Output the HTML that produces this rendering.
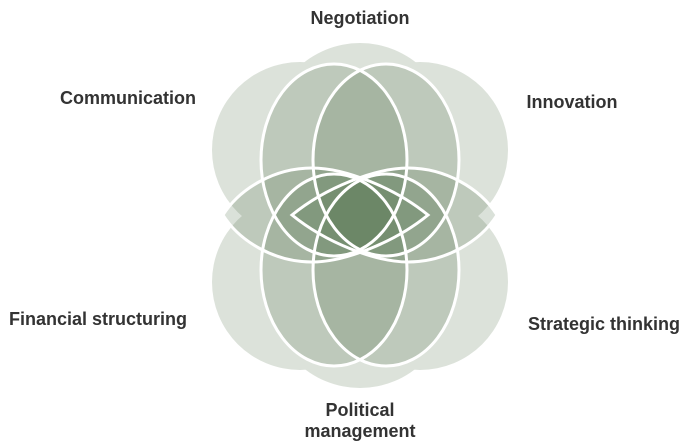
<!DOCTYPE html>
<html><head><style>
html,body{margin:0;padding:0;background:#fff;width:687px;height:444px;overflow:hidden}
svg{display:block}
text{font-family:"Liberation Sans",sans-serif;font-weight:bold;font-size:18px;fill:#333}
</style></head><body>
<svg width="687" height="444" viewBox="0 0 687 444" xmlns="http://www.w3.org/2000/svg">
<defs>
<path id="hl" d="M223,215 C240,188 275,168 312,168 C345,168 395,188 428,215 C395,242 345,262 312,262 C275,262 240,242 223,215 Z"/>
<path id="hr" d="M497,215 C480,188 445,168 408,168 C375,168 325,188 292,215 C325,242 375,262 408,262 C445,262 480,242 497,215 Z"/>
</defs>
<g fill="#dce2da">
<circle cx="360" cy="133" r="90"/>
<circle cx="360" cy="298" r="90"/>
<circle cx="300" cy="150" r="88"/>
<circle cx="420" cy="150" r="88"/>
<circle cx="300" cy="282" r="88"/>
<circle cx="420" cy="282" r="88"/>
</g>
<g fill="rgb(70,105,66)" fill-opacity="0.2">
<ellipse cx="334" cy="160" rx="73" ry="96"/>
<ellipse cx="386" cy="160" rx="73" ry="96"/>
<ellipse cx="334" cy="270" rx="73" ry="96"/>
<ellipse cx="386" cy="270" rx="73" ry="96"/>
<use href="#hl"/>
<use href="#hr"/>
</g>
<g fill="none" stroke="#fff" stroke-width="3">
<ellipse cx="334" cy="160" rx="73" ry="96"/>
<ellipse cx="386" cy="160" rx="73" ry="96"/>
<ellipse cx="334" cy="270" rx="73" ry="96"/>
<ellipse cx="386" cy="270" rx="73" ry="96"/>
<use href="#hl"/>
<use href="#hr"/>
</g>
<text x="360" y="24" text-anchor="middle">Negotiation</text>
<text x="128" y="104" text-anchor="middle">Communication</text>
<text x="572" y="108" text-anchor="middle">Innovation</text>
<text x="98" y="325" text-anchor="middle">Financial structuring</text>
<text x="604" y="330" text-anchor="middle">Strategic thinking</text>
<text x="360" y="416" text-anchor="middle">Political</text>
<text x="360" y="437" text-anchor="middle">management</text>
</svg>
</body></html>
